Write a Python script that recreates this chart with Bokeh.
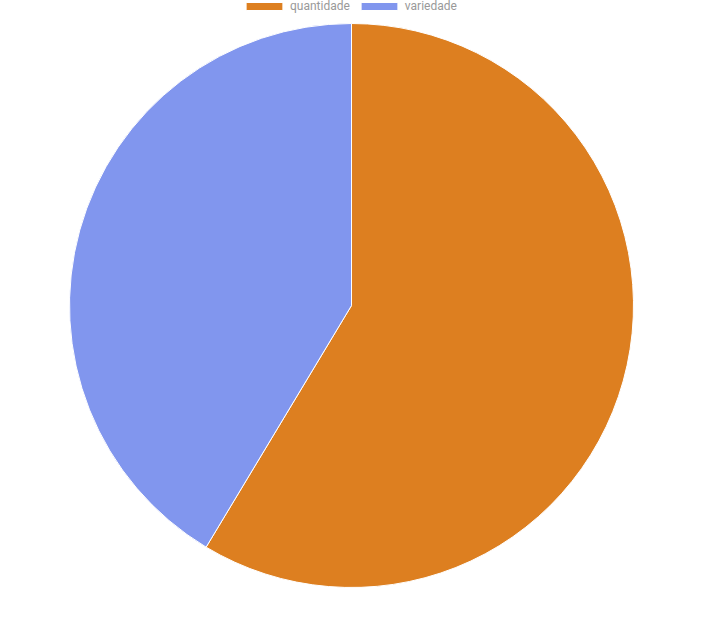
import math
from bokeh.plotting import figure
from bokeh.models import Range1d, Legend, LegendItem
from bokeh.embed import file_html
from bokeh.resources import INLINE

categories = ["quantidade", "variedade"]
values = [17, 12]
colors = ["#DD7F20", "#8196EE"]

total = sum(values)
ends = []
starts = []
# clockwise from top
cur = math.pi / 2
for v in values:
    ang = 2 * math.pi * v / total
    ends.append(cur)
    starts.append(cur - ang)
    cur -= ang

p = figure(width=699, height=613, output_backend="svg", toolbar_location=None,
           x_range=Range1d(-8, 691), y_range=Range1d(-605, 8),
           min_border=0, margin=(-8, 0, 0, -8))
p.axis.visible = False
p.grid.visible = False
p.outline_line_color = None
p.background_fill_color = "white"
p.border_fill_color = "white"

renderers = []
for i in range(len(values)):
    r = p.wedge(x=351, y=-305, radius=282, start_angle=starts[i], end_angle=ends[i],
                fill_color=colors[i], line_color="white", line_width=1)
    renderers.append(r)

legend = Legend(items=[LegendItem(label=categories[i], renderers=[renderers[i]]) for i in range(len(values))],
                orientation="horizontal", location=(249, 592),
                glyph_width=46, glyph_height=10, label_height=10,
                label_standoff=3, spacing=6, padding=0, margin=0,
                label_text_font="Roboto", label_text_font_size="12px",
                label_text_color="#999999", border_line_color=None,
                background_fill_alpha=0)
p.add_layout(legend, "center")

open("out.html", "w").write(file_html(p, INLINE))
